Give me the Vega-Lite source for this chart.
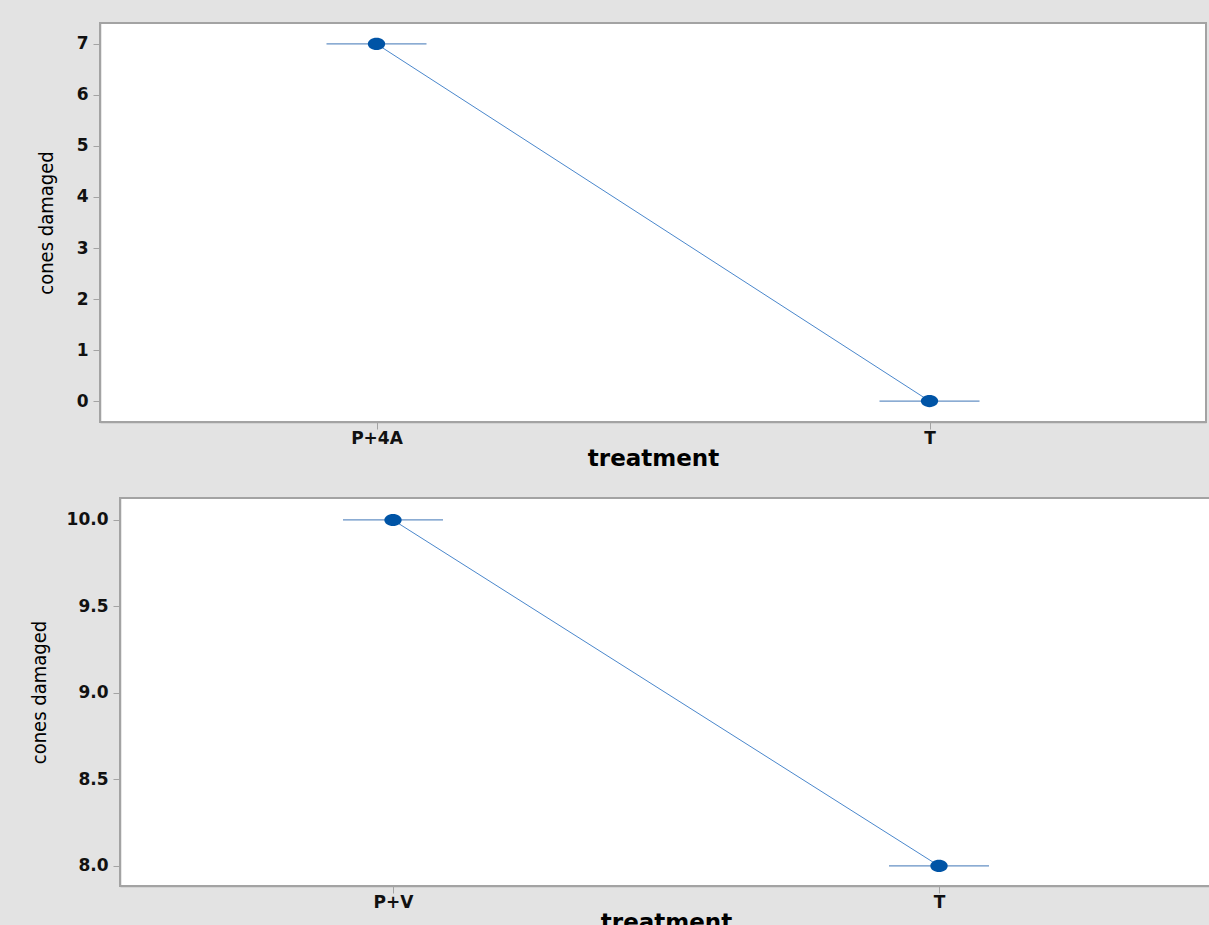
{
  "$schema": "https://vega.github.io/schema/vega-lite/v6.json",
  "background": "#e3e3e3",
  "padding": {"left": 28, "top": 22, "right": 0, "bottom": 0},
  "spacing": 26,
  "datasets": {
    "firstTrial": [
      {"treatment": "P+4A", "cones damaged": 7},
      {"treatment": "T", "cones damaged": 0}
    ],
    "secondTrial": [
      {"treatment": "P+V", "cones damaged": 10},
      {"treatment": "T", "cones damaged": 8}
    ]
  },
  "config": {
    "view": {"fill": "#ffffff", "stroke": "#a3a3a3", "strokeWidth": 2},
    "axis": {
      "grid": false,
      "domainColor": "#a3a3a3",
      "domainWidth": 1.5,
      "tickColor": "#a3a3a3",
      "tickSize": 7,
      "labelFont": "DejaVu Sans",
      "labelFontWeight": "bold",
      "labelFontSize": 17,
      "labelColor": "#111111",
      "titleColor": "#000000"
    },
    "axisX": {
      "labelPadding": 1,
      "titleFont": "DejaVu Sans",
      "titleFontWeight": "bold",
      "titleFontSize": 23,
      "titlePadding": 1
    },
    "axisY": {
      "labelPadding": 5,
      "titleFont": "DejaVu Sans Condensed",
      "titleFontWeight": "normal",
      "titleFontSize": 20,
      "titlePadding": 16
    }
  },
  "vconcat": [
    {
      "width": 1106,
      "height": 399,
      "data": {"name": "firstTrial"},
      "encoding": {
        "x": {"field": "treatment", "type": "ordinal", "sort": null,
              "scale": {"type": "point", "padding": 0.5},
              "axis": {"labelAngle": 0}},
        "y": {"field": "cones damaged", "type": "quantitative",
              "scale": {"domain": [-0.41, 7.41], "nice": false, "zero": false},
              "axis": {"values": [0, 1, 2, 3, 4, 5, 6, 7], "titlePadding": 20}}
      },
      "layer": [
        {"mark": {"type": "line", "color": "#4a87cc", "strokeWidth": 1}},
        {"mark": {"type": "tick", "color": "#2262ad", "size": 100, "thickness": 1.3}},
        {"mark": {"type": "point", "filled": true, "opacity": 1, "color": "#0054a6",
                  "shape": "M-1,0A1,0.7 0 1,1 1,0A1,0.7 0 1,1 -1,0Z", "size": 300}}
      ]
    },
    {
      "bounds": "flush",
      "spacing": 10,
      "hconcat": [
        {
          "width": 10,
          "height": 388,
          "view": {"fill": null, "stroke": null},
          "data": {"values": []},
          "mark": "point"
        },
        {
          "width": 1092,
          "height": 388,
          "data": {"name": "secondTrial"},
          "encoding": {
            "x": {"field": "treatment", "type": "ordinal", "sort": null,
                  "scale": {"type": "point", "padding": 0.5},
                  "axis": {"labelAngle": 0}},
            "y": {"field": "cones damaged", "type": "quantitative",
                  "scale": {"domain": [7.884, 10.127], "nice": false, "zero": false},
                  "axis": {"values": [8, 8.5, 9, 9.5, 10], "format": ".1f", "titlePadding": 17}}
          },
          "layer": [
            {"mark": {"type": "line", "color": "#4a87cc", "strokeWidth": 1}},
            {"mark": {"type": "tick", "color": "#2262ad", "size": 100, "thickness": 1.3}},
            {"mark": {"type": "point", "filled": true, "opacity": 1, "color": "#0054a6",
                      "shape": "M-1,0A1,0.7 0 1,1 1,0A1,0.7 0 1,1 -1,0Z", "size": 300}}
          ]
        }
      ]
    }
  ]
}
